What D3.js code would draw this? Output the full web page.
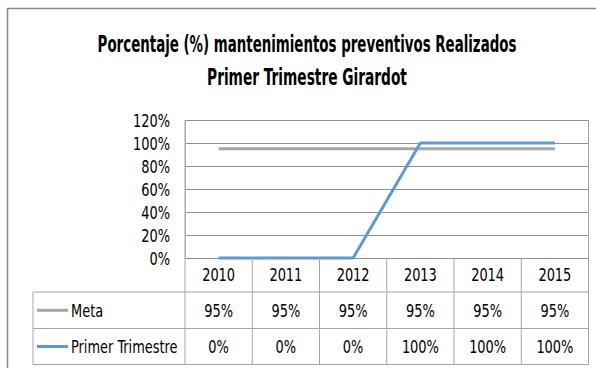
<!DOCTYPE html>
<html>
<head>
<meta charset="utf-8">
<script src="https://cdn.jsdelivr.net/npm/d3@7"></script>
<style>
  html, body { margin: 0; padding: 0; background: #fff; }
  svg { display: block; }
  text { font-family: "Liberation Sans Narrow", "DejaVu Sans Condensed", "Arial Narrow", sans-serif; fill: #000; }
</style>
</head>
<body>
<svg id="chart" width="596" height="368"></svg>
<script>
// Years shown along the category axis and in the data table
const years = ["2010", "2011", "2012", "2013", "2014", "2015"];
// Target percentage (Meta)
const meta = [0.95, 0.95, 0.95, 0.95, 0.95, 0.95];
// First-quarter achieved percentage
const primerTrimestre = [0, 0, 0, 1, 1, 1];
// Value axis ticks
const yTicks = [0, 0.2, 0.4, 0.6, 0.8, 1.0, 1.2];
const titleLines = ["Porcentaje (%) mantenimientos preventivos Realizados", "Primer Trimestre Girardot"];

const series = [
  { name: "Meta", values: meta, color: "#a5a5a5" },
  { name: "Primer Trimestre", values: primerTrimestre, color: "#5b9bd5" }
];

const svg = d3.select("#chart");
const pct = d3.format(".0%");
const NARROW = 0.8;   // horizontal squeeze for a condensed look

// Put a text at (x, y) and squeeze it horizontally around its anchor
function squeeze(sel, x, y, k) {
  sel.attr("x", 0).attr("y", 0)
     .attr("transform", (d, i, n) => {
       const xx = typeof x === "function" ? x(d, i, n) : x;
       const yy = typeof y === "function" ? y(d, i, n) : y;
       return `translate(${xx},${yy}) scale(${k},1)`;
     });
  return sel;
}

const plot = { left: 185, right: 588.5, top: 120, bottom: 258 };
const tableLeft = 33;
const rowH = [34, 36.5, 36];   // header row, then one row per series

const x = d3.scaleBand().domain(years).range([plot.left, plot.right]);
const y = d3.scaleLinear().domain([0, 1.2]).range([plot.bottom, plot.top]);

// Chart frame
svg.append("path")
  .attr("d", `M7.5,370 V8.5 H600`)
  .attr("fill", "none").attr("stroke", "#8a8a8a").attr("stroke-width", 1.6);

// Title
const titleFit = [{ w: 419, base: 51.5 }, { w: 200, base: 84.5 }];
titleLines.forEach((t, i) => {
  const el = svg.append("text")
    .attr("text-anchor", "middle")
    .attr("font-size", 23).attr("font-weight", "bold")
    .text(t);
  const natural = el.node().getComputedTextLength();
  squeeze(el, 307, titleFit[i].base, titleFit[i].w / natural);
});

// Horizontal gridlines
const grid = svg.append("g")
  .attr("transform", `translate(${plot.left},0)`)
  .call(d3.axisLeft(y).tickValues(yTicks).tickSize(-(plot.right - plot.left)).tickFormat(""));
grid.select(".domain").remove();
grid.selectAll("line").attr("stroke", "#8f8f8f").attr("stroke-width", 1);

// Value axis labels
const yAxis = svg.append("g")
  .attr("transform", `translate(${plot.left},0)`)
  .call(d3.axisLeft(y).tickValues(yTicks).tickSize(0).tickPadding(15).tickFormat(pct));
yAxis.select(".domain").attr("stroke", "#b0b0b0");
yAxis.selectAll("text")
  .attr("font-size", 18).attr("font-family", null).attr("fill", "#000")
  .attr("dy", "0.36em")
  .call(s => squeeze(s, -15, 0, NARROW));

// Series lines
const line = d3.line()
  .x((d, i) => x(years[i]) + x.bandwidth() / 2)
  .y(d => y(d));
series.forEach(s => {
  svg.append("path")
    .datum(s.values)
    .attr("d", line)
    .attr("fill", "none")
    .attr("stroke", s.color)
    .attr("stroke-width", 3)
    .attr("stroke-linejoin", "round");
});

// Data table
const table = svg.append("g");
const rowTop = [plot.bottom, plot.bottom + rowH[0], plot.bottom + rowH[0] + rowH[1]];
const tableBottom = rowTop[2] + rowH[2];
const tStroke = "#a6a6a6";

// horizontal rules
[rowTop[1], rowTop[2], tableBottom].forEach(yy => {
  table.append("line")
    .attr("x1", tableLeft).attr("x2", plot.right)
    .attr("y1", yy).attr("y2", yy)
    .attr("stroke", tStroke).attr("stroke-width", 1);
});
// vertical rules
years.forEach(yr => {
  table.append("line")
    .attr("x1", x(yr)).attr("x2", x(yr))
    .attr("y1", yr === years[0] ? plot.top : plot.bottom).attr("y2", tableBottom)
    .attr("stroke", tStroke).attr("stroke-width", 1);
});
[tableLeft, plot.right].forEach(xx => {
  table.append("line")
    .attr("x1", xx).attr("x2", xx)
    .attr("y1", xx === tableLeft ? rowTop[1] : plot.top).attr("y2", tableBottom)
    .attr("stroke", tStroke).attr("stroke-width", 1);
});

// year header
table.selectAll(".yr").data(years).join("text")
  .attr("class", "yr")
  .attr("dy", "0.36em")
  .attr("text-anchor", "middle")
  .attr("font-size", 18)
  .text(d => d)
  .call(s => squeeze(s, d => x(d) + x.bandwidth() / 2, rowTop[0] + rowH[0] / 2, NARROW));

// series rows
series.forEach((s, si) => {
  const cy = rowTop[si + 1] + rowH[si + 1] / 2;
  table.append("line")
    .attr("x1", tableLeft + 4).attr("x2", tableLeft + 35)
    .attr("y1", cy).attr("y2", cy)
    .attr("stroke", s.color).attr("stroke-width", 3);
  table.append("text")
    .attr("dy", "0.36em")
    .attr("font-size", 18)
    .text(s.name)
    .call(t => squeeze(t, tableLeft + 38, cy, NARROW));
  table.selectAll(null).data(s.values).join("text")
    .attr("dy", "0.36em")
    .attr("text-anchor", "middle")
    .attr("font-size", 18)
    .text(d => pct(d))
    .call(t => squeeze(t, (d, i) => x(years[i]) + x.bandwidth() / 2, cy, NARROW));
});
</script>
</body>
</html>
